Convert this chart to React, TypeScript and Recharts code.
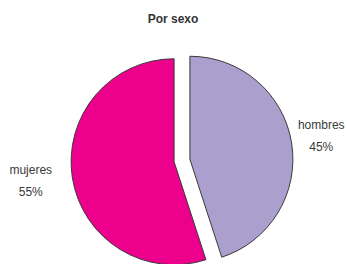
import React from 'react';
import { PieChart, Pie, Cell } from 'recharts';

const categories = ['hombres', 'mujeres'];
const values = [45, 55];
const colors = ['#ab9fcd', '#ec008c'];

const data = categories.map((name, i) => ({ name, value: values[i] }));

const RADIAN = Math.PI / 180;
const CENTER_X = 182;
const CENTER_Y = 160.5;
const RADIUS = 103;
const EXPLODE = 8;

// mid angle of each slice, recharts convention (start at 90, clockwise)
const total = values.reduce((a, b) => a + b, 0);
const midAngles: number[] = [];
let acc = 0;
values.forEach((v) => {
  const start = 90 - (acc / total) * 360;
  const end = 90 - ((acc + v) / total) * 360;
  midAngles.push((start + end) / 2);
  acc += v;
});

const textStyle = { fontFamily: '"Liberation Sans", Arial, sans-serif', fontSize: 12, fill: '#3a3a3a' };

const makeLabel = (only: number) => (props: any) => {
  const { cx, cy, midAngle, outerRadius, index, name, value } = props;
  if (index !== only) return null;
  const r = outerRadius + 30;
  const cos = Math.cos(-midAngle * RADIAN);
  // left-hand labels sit a little further out
  const x = cx + r * cos + (cos < 0 ? -12 : 0);
  const y = cy + r * Math.sin(-midAngle * RADIAN);
  return (
    <text x={x} y={y} textAnchor="middle" style={textStyle}>
      <tspan x={x} dy={-9}>{name}</tspan>
      <tspan x={x} dy={22}>{`${value}%`}</tspan>
    </text>
  );
};

export default function App() {
  return (
    <div style={{ position: 'absolute', left: 0, top: 0, width: 347, height: 264, background: '#fff' }}>
      <PieChart width={347} height={264} margin={{ top: 0, right: 0, bottom: 0, left: 0 }}>
        <text
          x={173}
          y={23}
          textAnchor="middle"
          style={{ fontFamily: '"Liberation Sans", Arial, sans-serif', fontSize: 12, fontWeight: 'bold', fill: '#333' }}
        >
          Por sexo
        </text>
        {categories.map((_, i) => (
          <Pie
            key={i}
            data={data}
            dataKey="value"
            nameKey="name"
            cx={CENTER_X + EXPLODE * Math.cos(-midAngles[i] * RADIAN)}
            cy={CENTER_Y + EXPLODE * Math.sin(-midAngles[i] * RADIAN)}
            outerRadius={RADIUS}
            startAngle={90}
            endAngle={-270}
            label={makeLabel(i)}
            labelLine={false}
            isAnimationActive={false}
          >
            {data.map((_, j) => (
              <Cell
                key={j}
                fill={j === i ? colors[j] : 'transparent'}
                stroke={j === i ? '#3a3a3a' : 'none'}
                strokeWidth={1}
              />
            ))}
          </Pie>
        ))}
      </PieChart>
    </div>
  );
}
